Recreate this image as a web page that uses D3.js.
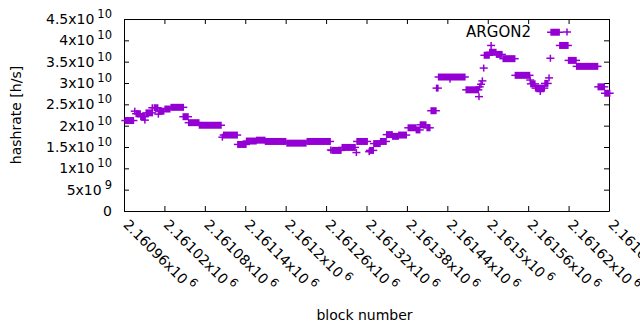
<!DOCTYPE html>
<html>
<head>
<meta charset="utf-8">
<script src="https://cdn.jsdelivr.net/npm/d3@7"></script>
<style>
  body { margin: 0; background: #fff; }
  text { font-family: "DejaVu Sans", sans-serif; fill: #000; }
</style>
</head>
<body>
<div id="chart"></div>
<script>
// hashrate per block, stored as runs of equal value (start block, end block, hashrate x10^10)
const runStart = [2160962, 2160976, 2160978, 2160985, 2160991, 2160993, 2161002, 2161005, 2161011, 2161012,
  2161021, 2161030, 2161048, 2161056, 2161072, 2161106, 2161108, 2161129, 2161142, 2161157,
  2161170, 2161202, 2161232, 2161267, 2161269, 2161284, 2161305, 2161306, 2161324, 2161325,
  2161331, 2161341, 2161350, 2161359, 2161368, 2161382, 2161394, 2161400, 2161410, 2161416,
  2161424, 2161427, 2161444, 2161468, 2161487, 2161488, 2161490, 2161492, 2161494, 2161495,
  2161503, 2161505, 2161513, 2161523, 2161541, 2161563, 2161564, 2161571, 2161578, 2161585,
  2161591, 2161593, 2161594, 2161607, 2161620, 2161632, 2161664, 2161674];
const runEnd = [2160974, 2160976, 2160984, 2160991, 2160991, 2161002, 2161002, 2161010, 2161011, 2161019,
  2161028, 2161048, 2161055, 2161071, 2161104, 2161106, 2161128, 2161141, 2161156, 2161169,
  2161200, 2161230, 2161266, 2161267, 2161282, 2161303, 2161305, 2161321, 2161324, 2161330,
  2161340, 2161349, 2161358, 2161367, 2161379, 2161393, 2161399, 2161408, 2161414, 2161423,
  2161426, 2161466, 2161444, 2161486, 2161487, 2161488, 2161490, 2161492, 2161494, 2161502,
  2161512, 2161505, 2161521, 2161540, 2161562, 2161563, 2161570, 2161584, 2161578, 2161589,
  2161591, 2161593, 2161606, 2161619, 2161631, 2161663, 2161673, 2161681];
const hashrate = [2.12, 2.34, 2.28, 2.21, 2.13, 2.30, 2.42, 2.42, 2.27, 2.34,
  2.39, 2.43, 2.21, 2.07, 2.01, 1.73, 1.78, 1.56, 1.64, 1.66,
  1.63, 1.59, 1.63, 1.43, 1.42, 1.49, 1.37, 1.63, 1.39, 1.42,
  1.58, 1.63, 1.79, 1.75, 1.78, 1.95, 1.90, 2.02, 1.95, 2.35,
  2.88, 3.14, 3.09, 2.84, 2.68, 2.91, 2.97, 3.05, 3.35, 3.65,
  3.72, 3.88, 3.67, 3.57, 3.18, 3.07, 2.98, 2.88, 2.80, 2.99,
  3.12, 3.58, 4.19, 3.88, 3.53, 3.39, 2.91, 2.76].map(v => v * 1e10);

const yTicks = [0, 5e9, 1e10, 1.5e10, 2e10, 2.5e10, 3e10, 3.5e10, 4e10, 4.5e10];
const xTicks = [2160960, 2161020, 2161080, 2161140, 2161200, 2161260, 2161320,
  2161380, 2161440, 2161500, 2161560, 2161620, 2161680];
const seriesName = 'ARGON2';

const width = 640;
const height = 330;
const margin = { top: 19, right: 31, bottom: 119, left: 124 };
const pointColor = '#9400d3';
const tickLen = 5;
const arm = 4;      // half width of the + marker
const halfH = 3.5;  // half height of the + marker

const svg = d3.select('#chart')
  .append('svg')
  .attr('width', width)
  .attr('height', height);

const xScale = d3.scaleLinear()
  .domain([xTicks[0], xTicks[xTicks.length - 1]])
  .range([margin.left, width - margin.right]);

const yScale = d3.scaleLinear()
  .domain([0, 4.5e10])
  .range([height - margin.bottom, margin.top]);

// split a number into mantissa and power of ten, gnuplot style
function sciParts(v) {
  if (v === 0) return null;
  const e = Math.floor(Math.log10(v));
  const m = +(v / Math.pow(10, e)).toPrecision(7);
  return { m: m, e: e };
}

function writeSci(sel, v) {
  const p = sciParts(v);
  if (!p) { sel.text('0'); return; }
  sel.append('tspan').text(p.m + 'x10');
  sel.append('tspan')
    .attr('dx', 3)
    .attr('dy', -6)
    .style('font-size', '11.5px')
    .text(p.e);
}

// axes
const xAxisB = d3.axisBottom(xScale).tickValues(xTicks).tickSizeInner(-tickLen).tickSizeOuter(0).tickFormat('');
const xAxisT = d3.axisTop(xScale).tickValues(xTicks).tickSizeInner(-tickLen).tickSizeOuter(0).tickFormat('');
const yAxisL = d3.axisLeft(yScale).tickValues(yTicks).tickSizeInner(-tickLen).tickSizeOuter(0).tickFormat('');
const yAxisR = d3.axisRight(yScale).tickValues(yTicks).tickSizeInner(-tickLen).tickSizeOuter(0).tickFormat('');

svg.append('g').attr('transform', `translate(0, ${yScale(0)})`).call(xAxisB);
svg.append('g').attr('transform', `translate(0, ${yScale(4.5e10)})`).call(xAxisT);
svg.append('g').attr('transform', `translate(${xScale.range()[0]}, 0)`).call(yAxisL);
svg.append('g').attr('transform', `translate(${xScale.range()[1]}, 0)`).call(yAxisR);
svg.selectAll('.domain').attr('stroke', '#000').attr('stroke-width', 1);
svg.selectAll('.tick line').attr('stroke', '#000');

// y tick labels
yTicks.forEach(v => {
  const t = svg.append('text')
    .attr('x', 112)
    .attr('y', yScale(v))
    .attr('dy', '0.36em')
    .attr('text-anchor', 'end')
    .style('font-size', '14px');
  writeSci(t, v);
});

// x tick labels, rotated
xTicks.forEach(v => {
  const t = svg.append('text')
    .attr('transform', `translate(${xScale(v) + 2}, ${yScale(0) + 11}) rotate(45)`)
    .attr('dy', '0.36em')
    .style('font-size', '14px');
  writeSci(t, v);
});

// points: each block draws a +, runs of equal value merge into a bar
const runs = runStart.map((s, i) => ({ start: s, end: runEnd[i], value: hashrate[i] }));

const marks = svg.append('g').attr('class', 'points');
marks.selectAll('rect')
  .data(runs)
  .join('rect')
  .attr('x', d => xScale(d.start) - 0.75)
  .attr('width', d => xScale(d.end) - xScale(d.start) + 1.5)
  .attr('y', d => yScale(d.value) - halfH)
  .attr('height', halfH * 2)
  .attr('fill', pointColor);

marks.selectAll('line')
  .data(runs)
  .join('line')
  .attr('x1', d => xScale(d.start) - arm)
  .attr('x2', d => xScale(d.end) + arm)
  .attr('y1', d => yScale(d.value))
  .attr('y2', d => yScale(d.value))
  .attr('stroke', pointColor)
  .attr('stroke-width', 1.5);

// legend
svg.append('text')
  .attr('x', 531)
  .attr('y', 37)
  .attr('text-anchor', 'end')
  .style('font-size', '15px')
  .text(seriesName);

const key = svg.append('g').attr('transform', 'translate(567, 32)');
key.append('line').attr('x1', -arm).attr('x2', arm).attr('stroke', pointColor).attr('stroke-width', 1.5);
key.append('line').attr('y1', -halfH).attr('y2', halfH).attr('stroke', pointColor).attr('stroke-width', 1.5);

// axis titles
svg.append('text')
  .attr('transform', `translate(21, ${(yScale(0) + yScale(4.5e10)) / 2}) rotate(-90)`)
  .attr('text-anchor', 'middle')
  .style('font-size', '14px')
  .text('hashrate [h/s]');

svg.append('text')
  .attr('x', (xScale.range()[0] + xScale.range()[1]) / 2 - 2)
  .attr('y', 320)
  .attr('text-anchor', 'middle')
  .style('font-size', '14px')
  .text('block number');
</script>
</body>
</html>
